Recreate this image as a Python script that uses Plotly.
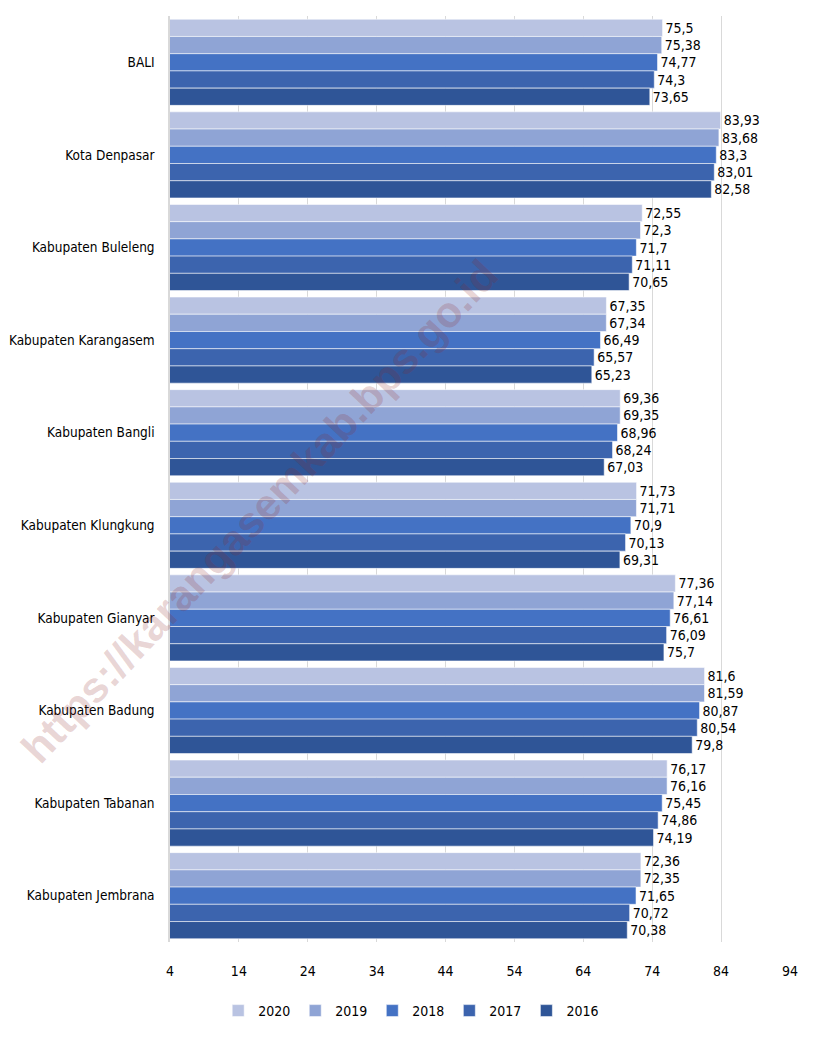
import plotly.graph_objects as go

categories = ["BALI", "Kota Denpasar", "Kabupaten Buleleng", "Kabupaten Karangasem",
              "Kabupaten Bangli", "Kabupaten Klungkung", "Kabupaten Gianyar",
              "Kabupaten Badung", "Kabupaten Tabanan", "Kabupaten Jembrana"]
years = ["2020", "2019", "2018", "2017", "2016"]

v2020 = [75.5, 83.93, 72.55, 67.35, 69.36, 71.73, 77.36, 81.6, 76.17, 72.36]
v2019 = [75.38, 83.68, 72.3, 67.34, 69.35, 71.71, 77.14, 81.59, 76.16, 72.35]
v2018 = [74.77, 83.3, 71.7, 66.49, 68.96, 70.9, 76.61, 80.87, 75.45, 71.65]
v2017 = [74.3, 83.01, 71.11, 65.57, 68.24, 70.13, 76.09, 80.54, 74.86, 70.72]
v2016 = [73.65, 82.58, 70.65, 65.23, 67.03, 69.31, 75.7, 79.8, 74.19, 70.38]

tick_vals = [4, 14, 24, 34, 44, 54, 64, 74, 84, 94]

series = [v2020, v2019, v2018, v2017, v2016]
colors = ["#B9C3E2", "#8FA4D5", "#4472C4", "#3C64AE", "#2F5597"]

FONT = "Liberation Sans Narrow, DejaVu Sans Condensed, Arial Narrow, sans-serif"

fig = go.Figure()
for name, vals, col in zip(years, series, colors):
    fig.add_trace(go.Bar(
        y=categories, x=vals, name=name, orientation="h",
        marker=dict(color=col, line=dict(color="rgba(255,255,255,0.55)", width=1)),
        text=[str(v).replace(".", ",") for v in vals],
        textposition="outside", constraintext="none", cliponaxis=False,
        textfont=dict(size=14, color="#000000", family=FONT),
    ))

# the page places the figure 8px from the top-left corner (body margin)
fig.update_layout(
    width=808, height=1030,
    margin=dict(l=162, r=26, t=8, b=96),
    barmode="group", bargap=0.07, bargroupgap=0,
    plot_bgcolor="white", paper_bgcolor="white",
    font=dict(family=FONT, size=14, color="#000000"),
    showlegend=True,
    legend=dict(orientation="h", xref="container", yref="container",
                x=0.499, xanchor="center", y=0.0262, yanchor="middle",
                font=dict(size=14, family=FONT), traceorder="normal",
                itemwidth=30),
    xaxis=dict(range=[4, 94], tickvals=tick_vals, showgrid=True,
               gridcolor="#D9D9D9", gridwidth=1, zeroline=False,
               showline=False, ticks="", ticklabelstandoff=19,
               automargin=False,
               tickfont=dict(size=14, family=FONT)),
    yaxis=dict(autorange="reversed", showline=True, linecolor="#D9D9D9",
               linewidth=1.5, ticks="", ticklabelstandoff=11,
               automargin=False,
               tickfont=dict(size=13.5, family=FONT)),
    annotations=[dict(text="https://karangasemkab.bps.go.id",
                      xref="paper", yref="paper", x=0.145, y=0.465,
                      xanchor="center", yanchor="middle", showarrow=False,
                      textangle=-46.7,
                      font=dict(size=43, color="rgba(140,40,40,0.2)",
                                family="Liberation Sans, Arial, sans-serif",
                                weight="bold"))],
)

fig.write_html("out.html")
